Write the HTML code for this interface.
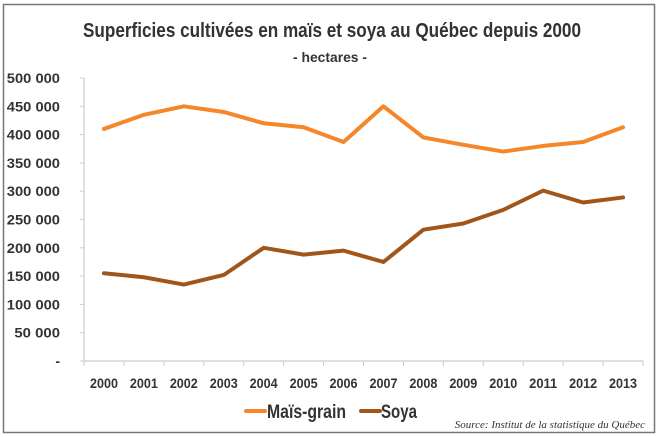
<!DOCTYPE html>
<html><head><meta charset="utf-8">
<style>
body{margin:0;background:#fff;}
svg{display:block;}
text{font-family:"Liberation Sans",sans-serif;font-weight:bold;fill:#333;}
</style></head>
<body>
<svg id="chart" width="659" height="437" viewBox="0 0 659 437" xmlns="http://www.w3.org/2000/svg">
<rect x="3.5" y="4.5" width="651" height="428" fill="#fff" stroke="#777" stroke-width="1.5"/>
<text x="83" y="37" font-size="20" textLength="498" lengthAdjust="spacingAndGlyphs">Superficies cultivées en maïs et soya au Québec depuis 2000</text>
<text x="293" y="62" font-size="14" textLength="74" lengthAdjust="spacingAndGlyphs">- hectares -</text>
<g id="yaxis"></g>
<g id="xaxis"></g>
<g id="series"></g>
<g>
<line x1="246" y1="411" x2="265" y2="411" stroke="#F5862A" stroke-width="4" stroke-linecap="round"/>
<text x="267" y="418" font-size="19" textLength="79" lengthAdjust="spacingAndGlyphs">Maïs-grain</text>
<line x1="361" y1="411" x2="380" y2="411" stroke="#A0561B" stroke-width="4" stroke-linecap="round"/>
<text x="381" y="418" font-size="19" textLength="36" lengthAdjust="spacingAndGlyphs">Soya</text>
</g>
<text x="645" y="428" text-anchor="end" font-size="11" style="font-family:'Liberation Serif',serif;font-style:italic;font-weight:normal">Source: Institut de la statistique du Québec</text>
</svg>
<script>
const years=["2000","2001","2002","2003","2004","2005","2006","2007","2008","2009","2010","2011","2012","2013"];
const mais=[410000,435000,450000,440000,420000,413000,387000,450000,395000,382000,370000,380000,387000,413000];
const soya=[155000,148000,135000,152000,200000,188000,195000,175000,232000,243000,267000,301000,280000,289000];
const yTicks=[0,50000,100000,150000,200000,250000,300000,350000,400000,450000,500000];
const yTickLabels=["-","50 000","100 000","150 000","200 000","250 000","300 000","350 000","400 000","450 000","500 000"];
const NS="http://www.w3.org/2000/svg";
const pLeft=84,pRight=643,pTop=78,pBottom=361,yMax=500000;
const band=(pRight-pLeft)/years.length;
const xS=i=>pLeft+band*(i+0.5);
const yS=v=>pBottom-(v/yMax)*(pBottom-pTop);
function mk(tag,attrs,parent){const e=document.createElementNS(NS,tag);for(const k in attrs)e.setAttribute(k,attrs[k]);parent.appendChild(e);return e;}
const ya=document.getElementById('yaxis'),xa=document.getElementById('xaxis'),sg=document.getElementById('series');
const yl=mk('line',{x1:pLeft,y1:pTop,x2:pLeft,y2:pBottom,stroke:'#ccc','stroke-width':1.2},ya);


yTicks.forEach((v,i)=>{
 const lab=yTickLabels[i];
 const attrs={x:60,y:yS(v)+5,'text-anchor':'end','font-size':14};
 if(lab.length>1){attrs.textLength=lab.length*7.6;attrs.lengthAdjust='spacingAndGlyphs';}
 const t=mk('text',attrs,ya);
 t.textContent=lab;
 
 
 const tk=mk('line',{x1:pLeft-4,y1:yS(v),x2:pLeft,y2:yS(v),stroke:'#ccc'},ya);
 
 
});
const xl=mk('line',{x1:pLeft,y1:pBottom,x2:pRight,y2:pBottom,stroke:'#ccc','stroke-width':1.2},xa);


for(let i=0;i<=years.length;i++){
 const tk=mk('line',{x1:pLeft+band*i,y1:pBottom,x2:pLeft+band*i,y2:pBottom+5,stroke:'#ccc'},xa);
 
 
}
years.forEach((y,i)=>{
 const t=mk('text',{x:xS(i)-14,y:388,'font-size':14,textLength:28,lengthAdjust:'spacingAndGlyphs'},xa);
 t.textContent=y;
 
 
});
function drawLine(vals,color,name){
 const p=mk('polyline',{points:vals.map((v,i)=>xS(i)+','+yS(v)).join(' '),fill:'none',stroke:color,'stroke-width':4,'stroke-linejoin':'round','stroke-linecap':'round'},sg);
 
 
}
drawLine(mais,'#F5862A','mais-grain-line');
drawLine(soya,'#A0561B','soya-line');
</script>
</body></html>
